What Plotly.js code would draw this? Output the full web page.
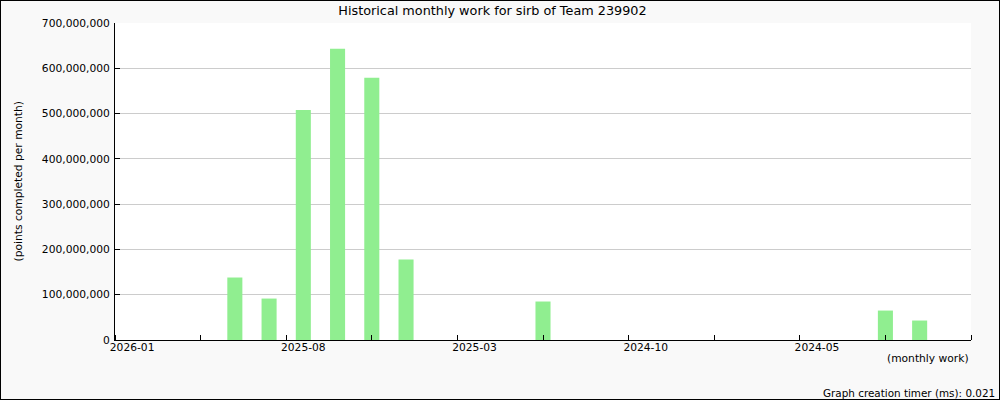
<!DOCTYPE html>
<html>
<head>
<meta charset="utf-8">
<script src="https://cdn.plot.ly/plotly-3.0.1.min.js"></script>
<style>
  html, body { margin: 0; padding: 0; background: #f9f9f9; }
  #wrap { position: relative; width: 1000px; height: 400px; }
  #chart { width: 1000px; height: 400px; }
  #frame { position: absolute; left: 0; top: 0; width: 998px; height: 398px; border: 1px solid #000; pointer-events: none; }
</style>
</head>
<body>
<div id="wrap"><div id="chart"></div><div id="frame"></div></div>
<script>
// Months, newest first (one slot per month)
const months = ["2026-01","2025-12","2025-11","2025-10","2025-09","2025-08","2025-07","2025-06","2025-05","2025-04",
                "2025-03","2025-02","2025-01","2024-12","2024-11","2024-10","2024-09","2024-08","2024-07","2024-06",
                "2024-05","2024-04","2024-03","2024-02","2024-01"];
// Points completed per month
const points = [0, 0, 0, 138000000, 91500000, 508000000, 643000000, 579000000, 178000000, 0,
                0, 0, 85000000, 0, 0, 0, 0, 0, 0, 0,
                0, 0, 65000000, 43000000, 0];
// Labelled months on the x axis
const tickMonths = ["2026-01","2025-08","2025-03","2024-10","2024-05"];

const slotCenters = months.map((m, i) => i + 0.5);
const tickVals = tickMonths.map(m => months.indexOf(m) + 0.5);
const minorTicks = [];
for (let t = 0; t <= months.length; t += 2.5) minorTicks.push(t);

const font = "DejaVu Sans, sans-serif";
const plotTop = 23, plotBottom = 340, plotLeft = 115, plotRight = 971;
const ph = plotBottom - plotTop, pw = plotRight - plotLeft;

const trace = {
  type: "bar",
  x: slotCenters,
  y: points,
  width: 0.44,
  marker: { color: "#90ee90", line: { width: 0 } },
  hoverinfo: "skip"
};

const layout = {
  width: 1000, height: 400,
  paper_bgcolor: "#f9f9f9",
  plot_bgcolor: "#ffffff",
  margin: { l: plotLeft, r: 1000 - plotRight, t: plotTop, b: 400 - plotBottom, pad: 0 },
  showlegend: false,
  font: { family: font, size: 10.7, color: "#000" },
  title: {
    text: "Historical monthly work for sirb of Team 239902",
    font: { family: font, size: 12.8, color: "#000" },
    x: 0.4925, xref: "container", xanchor: "center",
    y: 1 - 11 / 400, yref: "container", yanchor: "middle"
  },
  xaxis: {
    range: [0, months.length],
    tickvals: tickVals,
    ticktext: tickMonths,
    ticks: "",
    ticklabelstandoff: -3,
    minor: {
      tickvals: minorTicks,
      ticks: "inside", ticklen: 5, tickcolor: "#000", tickwidth: 1,
      showgrid: false
    },
    showgrid: false,
    zeroline: false,
    showline: true, linecolor: "#000", linewidth: 1,
    tickfont: { family: font, size: 10.7, color: "#000" },
    fixedrange: true
  },
  yaxis: {
    range: [0, 700000000],
    dtick: 100000000,
    tickformat: ",d",
    ticks: "inside", ticklen: 5, tickcolor: "#000",
    ticklabelstandoff: 2,
    showgrid: true, gridcolor: "#cccccc", gridwidth: 1,
    zeroline: false,
    showline: true, linecolor: "#000", linewidth: 1,
    tickfont: { family: font, size: 10.7, color: "#000" },
    fixedrange: true
  },
  annotations: [
    {
      text: "(points completed per month)",
      xref: "paper", yref: "paper",
      x: (18 - plotLeft) / pw, y: 0.5,
      xanchor: "center", yanchor: "middle",
      textangle: -90, showarrow: false,
      font: { family: font, size: 10.7, color: "#000" }
    },
    {
      text: "(monthly work)",
      xref: "paper", yref: "paper",
      x: 1, y: -(358 - plotBottom) / ph,
      xanchor: "right", yanchor: "middle",
      showarrow: false,
      font: { family: font, size: 10.7, color: "#000" }
    },
    {
      text: "Graph creation timer (ms): 0.021",
      xref: "paper", yref: "paper",
      x: (997 - plotLeft) / pw, y: -(393 - plotBottom) / ph,
      xanchor: "right", yanchor: "middle",
      showarrow: false,
      font: { family: font, size: 10.4, color: "#000" }
    }
  ]
};

Plotly.newPlot("chart", [trace], layout, { displayModeBar: false, staticPlot: true });
</script>
</body>
</html>
